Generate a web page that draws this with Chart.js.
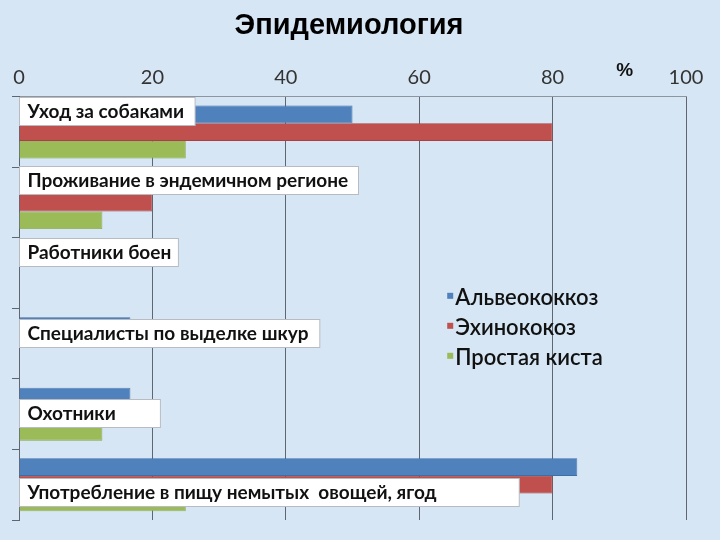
<!DOCTYPE html>
<html>
<head>
<meta charset="utf-8">
<script src="https://cdn.jsdelivr.net/npm/chart.js@4.4.1/dist/chart.umd.min.js"></script>
<style>
  html, body { margin: 0; padding: 0; background: #d6e6f4; }
  #wrap { width: 720px; height: 540px; position: relative; }
</style>
</head>
<body>
<div id="wrap"><canvas id="c" width="720" height="540"></canvas></div>
<script>
const categories = [
  "Уход за собаками",
  "Проживание в эндемичном регионе",
  "Работники боен",
  "Специалисты по выделке шкур",
  "Охотники",
  "Употребление в пищу немытых  овощей, ягод"
];
const seriesNames = ["Альвеококкоз", "Эхинококоз", "Простая киста"];
const alveococcosis = [50, 0, 0, 16.7, 16.7, 83.7];
const echinococcosis = [80, 20, 0, 0, 0, 80];
const simpleCyst = [25, 12.5, 0, 0, 12.5, 25];
const xTicks = [0, 20, 40, 60, 80, 100];

const colors = ["#4f81bd", "#c0504d", "#9bbb59"];
const borders = ["#3f6ea6", "#a8403d", "#86a448"];

// label box placement (styling): vertical offset from category centre (px), box end (axis units)
const labelStyle = {
  dy: [-21, -23, -21, -11, -1.5, 7],
  boxEnd: [26.4, 50.9, 23.9, 45.1, 21.2, 75],
  height: 28
};

const labelPlugin = {
  id: 'catLabels',
  afterDatasetsDraw(chart) {
    const ctx = chart.ctx, xs = chart.scales.x, ys = chart.scales.y;
    ctx.save();
    ctx.font = 'bold 19px Lato';
    ctx.textBaseline = 'middle';
    ctx.textAlign = 'left';
    chart.data.labels.forEach((lab, i) => {
      const cy = ys.getPixelForValue(i) + labelStyle.dy[i];
      const left = xs.getPixelForValue(0) + 0.5;
      const right = xs.getPixelForValue(labelStyle.boxEnd[i]);
      const top = Math.round(cy - labelStyle.height / 2) + 0.5;
      ctx.fillStyle = '#ffffff';
      ctx.fillRect(left, top, right - left, labelStyle.height);
      ctx.strokeStyle = '#b8bcc2';
      ctx.lineWidth = 1;
      ctx.strokeRect(left, top, right - left, labelStyle.height);
      ctx.fillStyle = '#111111';
      ctx.fillText(lab, left + 8, cy + 1);
    });
    ctx.restore();
  }
};

const legendPlugin = {
  id: 'innerLegend',
  afterDraw(chart) {
    const ctx = chart.ctx, xs = chart.scales.x, area = chart.chartArea;
    ctx.save();
    ctx.font = '600 22px Lato';
    ctx.textBaseline = 'middle';
    const x0 = xs.getPixelForValue(64.2);
    const y0 = area.top + 200;
    chart.data.datasets.forEach((ds, i) => {
      const y = y0 + i * 30;
      ctx.fillStyle = ds.backgroundColor;
      ctx.fillRect(x0, y - 4, 6, 6);
      ctx.fillStyle = '#111111';
      ctx.fillText(ds.label, x0 + 8, y + 1);
    });
    // percent sign
    ctx.font = 'bold 19px "Liberation Sans"';
    ctx.textAlign = 'center';
    ctx.fillText('%', xs.getPixelForValue(90.8), area.top - 26);
    ctx.restore();
  }
};

new Chart(document.getElementById('c'), {
  type: 'bar',
  data: {
    labels: categories,
    datasets: [
      { label: seriesNames[0], data: alveococcosis, backgroundColor: colors[0], borderColor: borders[0], borderWidth: 0.8 },
      { label: seriesNames[1], data: echinococcosis, backgroundColor: colors[1], borderColor: borders[1], borderWidth: 0.8 },
      { label: seriesNames[2], data: simpleCyst, backgroundColor: colors[2], borderColor: borders[2], borderWidth: 0.8 }
    ]
  },
  options: {
    indexAxis: 'y',
    responsive: false,
    animation: false,
    devicePixelRatio: 1,
    categoryPercentage: 0.75,
    barPercentage: 1.0,
    layout: { padding: { left: 12, right: 34, bottom: 20, top: 0 } },
    plugins: {
      legend: { display: false },
      tooltip: { enabled: false },
      title: {
        display: true,
        text: 'Эпидемиология',
        font: { family: '"Liberation Sans"', size: 29, weight: 'bold' },
        color: '#000000',
        padding: { top: 9, bottom: 15 }
      }
    },
    scales: {
      x: {
        position: 'top',
        min: 0, max: 100,
        afterBuildTicks(scale) { scale.ticks = xTicks.map(v => ({ value: v })); },
        ticks: { font: { family: 'Lato', size: 20 }, color: '#333333', padding: 7 },
        grid: { color: '#5f6670', lineWidth: 1, drawTicks: false },
        border: { display: true, color: '#8d959e' }
      },
      y: {
        ticks: { display: false },
        grid: { drawOnChartArea: false, offset: true, tickLength: 7, color: '#5f6670' },
        border: { display: true, color: '#5f6670' }
      }
    }
  },
  plugins: [labelPlugin, legendPlugin]
});
</script>
</body>
</html>
